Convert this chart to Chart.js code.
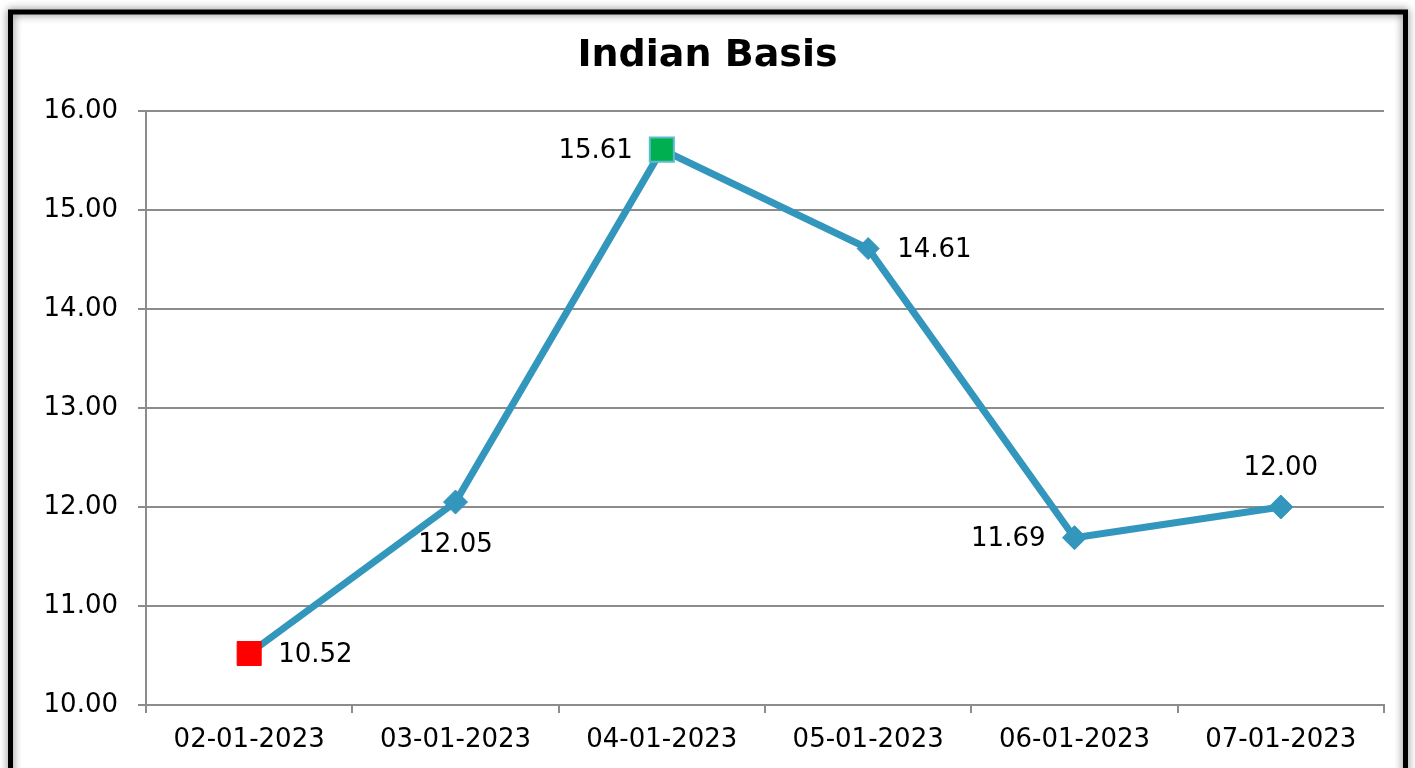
<!DOCTYPE html>
<html>
<head>
<meta charset="utf-8">
<script src="https://cdn.jsdelivr.net/npm/chart.js@4"></script>
<style>
  html, body { margin: 0; padding: 0; background: #fff; }
  #wrap { width: 1415px; height: 768px; position: relative; }
</style>
</head>
<body>
<div id="wrap"><canvas id="c" width="1415" height="768"></canvas></div>
<script>
const categories = ['02-01-2023', '03-01-2023', '04-01-2023', '05-01-2023', '06-01-2023', '07-01-2023'];
const basisValues = [10.52, 12.05, 15.61, 14.61, 11.69, 12.00];
const yTicks = [10, 11, 12, 13, 14, 15, 16];
const chartTitle = 'Indian Basis';

const FONT = '"DejaVu Sans", Verdana, sans-serif';
const LINE = '#3396bc';

const frame = {
  id: 'frame',
  beforeDraw(chart) {
    const ctx = chart.ctx;
    ctx.save();
    ctx.fillStyle = '#ffffff';
    ctx.fillRect(0, 0, chart.width, chart.height);
    ctx.shadowColor = 'rgba(0,0,0,0.55)';
    ctx.shadowBlur = 8;
    ctx.strokeStyle = '#000';
    ctx.lineWidth = 5;
    ctx.strokeRect(10.5, 12, 1395, 800);
    ctx.restore();
  }
};

const labelsPlugin = {
  id: 'valueLabels',
  afterDatasetsDraw(chart, args, opts) {
    const ctx = chart.ctx;
    const meta = chart.getDatasetMeta(0);
    const ds = chart.data.datasets[0];
    ctx.save();
    ctx.font = '26px ' + FONT;
    ctx.fillStyle = '#000';
    ctx.textBaseline = 'middle';
    meta.data.forEach((pt, i) => {
      const txt = ds.data[i].toFixed(2);
      const pos = opts.positions[i];
      let x = pt.x, y = pt.y;
      if (pos === 'right') { ctx.textAlign = 'left'; x += 29; y += 2; }
      else if (pos === 'left') { ctx.textAlign = 'right'; x -= 29; y += 2; }
      else if (pos === 'below') { ctx.textAlign = 'center'; y += 43; }
      else { ctx.textAlign = 'center'; y -= 39; }
      ctx.fillText(txt, x, y);
    });
    ctx.restore();
  }
};

new Chart(document.getElementById('c'), {
  type: 'line',
  data: {
    labels: categories,
    datasets: [{
      data: basisValues,
      borderColor: LINE,
      borderWidth: 7,
      tension: 0,
      pointStyle: ['rect', 'rectRot', 'rect', 'rectRot', 'rectRot', 'rectRot'],
      pointRadius: [17, 12, 17, 11, 12, 12],
      pointBackgroundColor: ['#ff0000', LINE, '#00b050', LINE, LINE, LINE],
      pointBorderColor: ['#ff0000', LINE, '#5cbccc', LINE, LINE, LINE],
      pointBorderWidth: [1, 1, 2, 1, 1, 1],
      pointHoverRadius: [17, 12, 17, 11, 12, 12]
    }]
  },
  options: {
    responsive: false,
    animation: false,
    devicePixelRatio: 1,
    layout: { padding: { left: 31, right: 31, top: 0, bottom: 0 } },
    plugins: {
      legend: { display: false },
      tooltip: { enabled: false },
      title: {
        display: true,
        text: chartTitle,
        color: '#000',
        font: { family: FONT, size: 38, weight: 'bold', lineHeight: 1.2 },
        padding: { top: 33, bottom: 32.4 }
      },
      valueLabels: { positions: ['right', 'below', 'left', 'right', 'left', 'above'] }
    },
    scales: {
      x: {
        offset: true,
        grid: {
          offset: true,
          drawOnChartArea: false,
          drawTicks: true,
          tickLength: 8,
          color: '#8c8c8c',
          lineWidth: 2
        },
        border: { display: true, color: '#8c8c8c', width: 2 },
        ticks: { color: '#000', font: { family: FONT, size: 26 }, padding: 12, maxRotation: 0, autoSkip: false },
        afterFit(scale) { scale.height = 63; }
      },
      y: {
        min: yTicks[0],
        max: yTicks[yTicks.length - 1],
        afterBuildTicks(scale) { scale.ticks = yTicks.map(v => ({ value: v })); },
        grid: { color: '#8c8c8c', lineWidth: 2, tickLength: 8, drawTicks: true },
        border: { display: true, color: '#8c8c8c', width: 2 },
        ticks: {
          color: '#000',
          font: { family: FONT, size: 26 },
          padding: 20,
          callback: v => Number(v).toFixed(2)
        },
        afterFit(scale) { scale.width = 115; }
      }
    }
  },
  plugins: [frame, labelsPlugin]
});
</script>
</body>
</html>
